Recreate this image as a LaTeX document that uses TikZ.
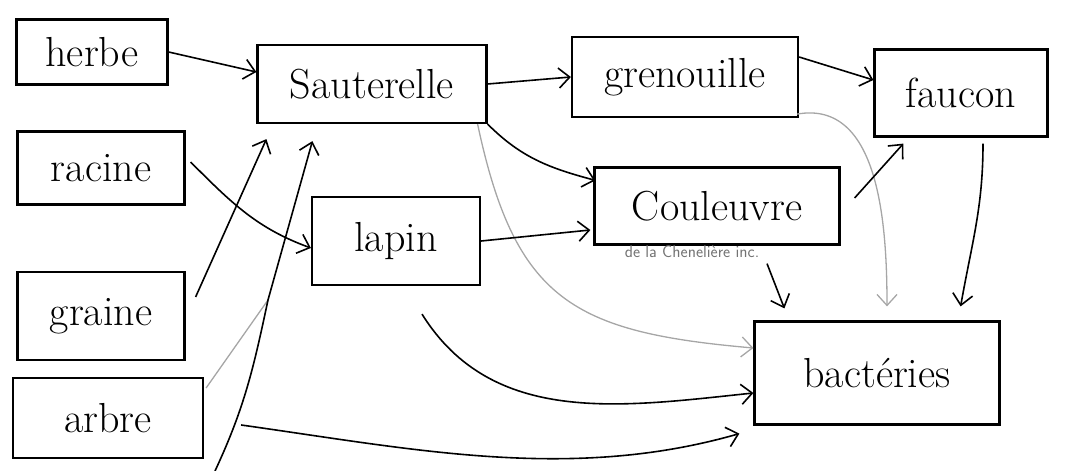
\documentclass[tikz,border=0pt]{standalone}
\usepackage{amsmath}
\usepackage{amssymb}
\usepackage{tikz}
\usetikzlibrary{arrows.meta}

\begin{document}
\begin{tikzpicture}[x=1pt, y=1pt,
		box/.style={draw, line width=2.2pt, inner sep=0pt, font=\fontsize{42}{48}\selectfont},
		arr/.style={-{Straight Barb[length=11pt,width=20pt]}, line width=1.6pt},
		pencil/.style={arr, gray!70, line width=1.3pt}]
				\useasboundingbox (0,0) rectangle (1076,471);
				
				% Boxes
				\node[box, minimum width=151, minimum height=65] (herbe) at (92,419) {herbe};
				\node[box, minimum width=167, minimum height=73] (racine) at (101,303) {racine};
				\node[box, minimum width=167, minimum height=88] (graine) at (101,155) {graine};
				\node[box, minimum width=190, minimum height=80] (arbre) at (108,53) {arbre};
				
				\node[box, minimum width=229, minimum height=78] (sauterelle) at (372,387) {Sauterelle};
				\node[box, minimum width=168, minimum height=88] (lapin) at (396,230) {lapin};
				
				\node[box, minimum width=226, minimum height=80] (grenouille) at (685,394) {grenouille};
				\node[box, minimum width=245, minimum height=77] (couleuvre) at (717,265) {Couleuvre};
				\node[box, minimum width=173, minimum height=87] (faucon) at (961,378) {faucon};
				\node[box, minimum width=245, minimum height=103] (bacteries) at (877,98) {bactéries};
				
				\node[black!55, font=\sffamily\fontsize{17}{20}\selectfont] (credit) at (692,219) {de la Chenelière inc.};
				
				% Plants
				\draw[arr] (herbe.east) -- ([yshift=12]sauterelle.west);
				\draw[arr] ([xshift=5,yshift=6]racine.east) to[out=-45,in=160] ([yshift=-7]lapin.west);
				\draw[arr] ([xshift=10,yshift=19]graine.east) -- ([xshift=10,yshift=-15]sauterelle.south west);
				
				\coordinate (foot) at (215,0);
				\coordinate (merge) at (268,171);
				\draw[pencil, -] ([xshift=2,yshift=30]arbre.east) -- (merge); % joins the long stroke
				\draw[arr] (foot) to[out=65,in=-102] (merge) -- ([xshift=56,yshift=-17]sauterelle.south west);
				\draw[arr] ([xshift=37,yshift=-7]arbre.east) to[out=-8,in=196,looseness=0.9] ([xshift=-14,yshift=-8]bacteries.south west);
				
				% Animals
				\draw[arr] (sauterelle.east) -- (grenouille.west);
				\draw[arr] (sauterelle.south east) to[out=-45,in=165] ([xshift=2,yshift=-14]couleuvre.north west);
				\draw[pencil] ([xshift=-10]sauterelle.south east) to[out=-78,in=175,looseness=1.3] ([yshift=25]bacteries.west);
				
				\draw[arr] (lapin.east) -- ([xshift=-3,yshift=-24]couleuvre.west);
				\draw[arr] ([xshift=26,yshift=-28]lapin.south) to[out=-58,in=186] ([yshift=-20]bacteries.west);
				
				\draw[arr] ([yshift=20]grenouille.east) -- ([yshift=13]faucon.west);
				\draw[pencil] ([xshift=-2,yshift=4]grenouille.south east) to[out=10,in=90] ([xshift=10,yshift=14]bacteries.north);
				
				\draw[arr] ([xshift=14,yshift=8]couleuvre.east) -- ([xshift=30,yshift=-6]faucon.south west);
				\draw[arr] ([xshift=50,yshift=-18]couleuvre.south) -- ([xshift=31,yshift=12]bacteries.north west);
				
				\draw[arr] ([xshift=22,yshift=-6]faucon.south) to[out=-90,in=80] ([xshift=-40,yshift=14]bacteries.north east);
			\end{tikzpicture}
\end{document}
